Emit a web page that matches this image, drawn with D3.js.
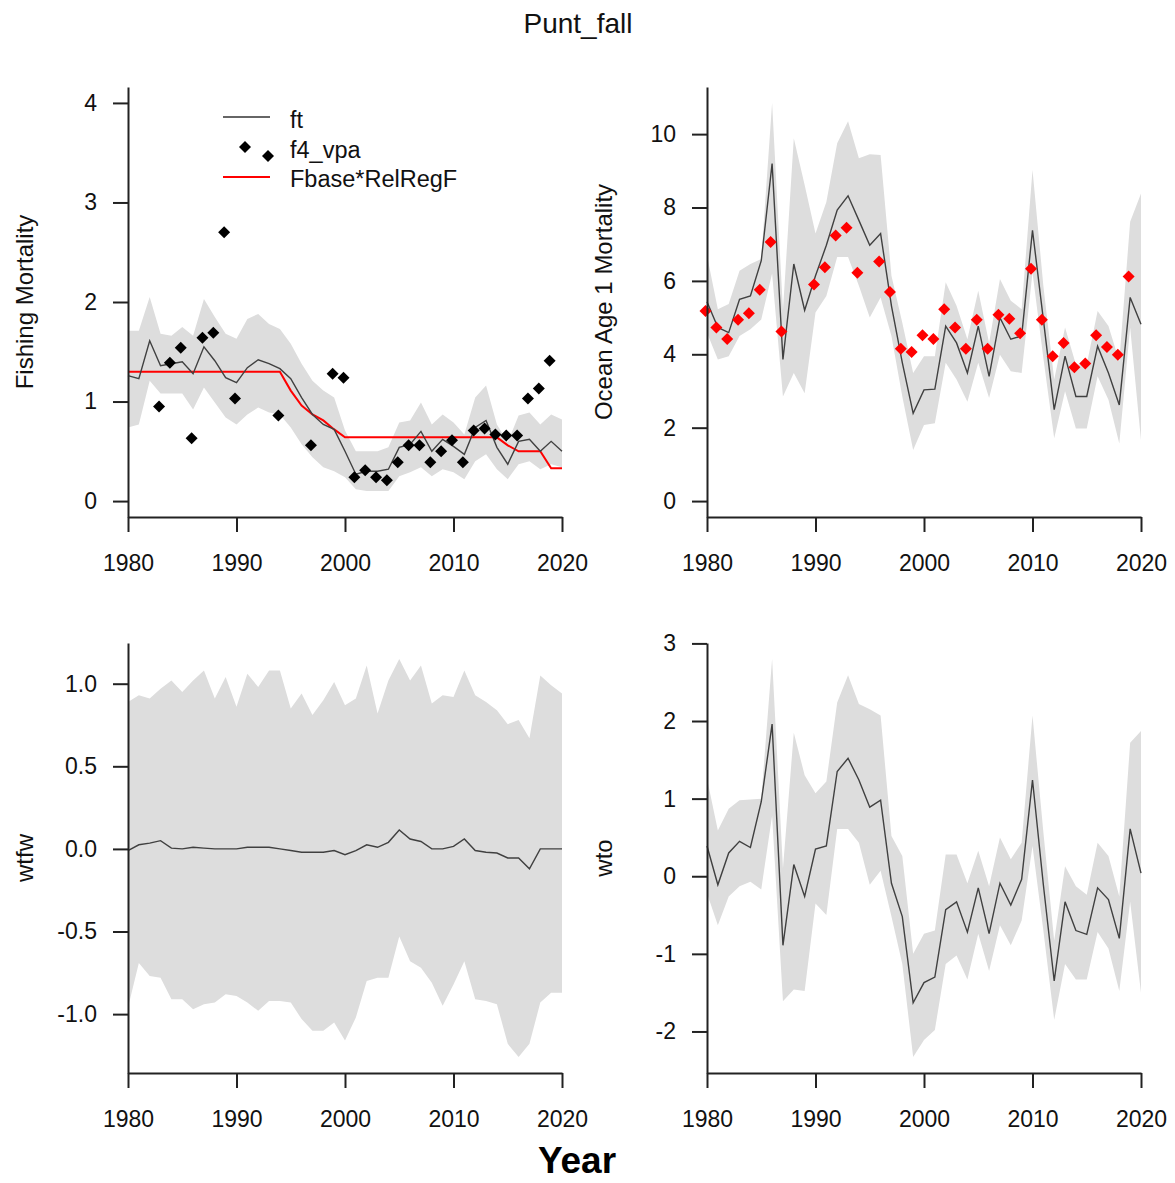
<!DOCTYPE html>
<html>
<head>
<meta charset="utf-8">
<script src="https://cdn.jsdelivr.net/npm/d3@7"></script>
<style>
  body { margin: 0; background: #fff; }
  svg { font-family: "Liberation Sans", Arial, sans-serif; }
</style>
</head>
<body>
<svg id="root" width="1175" height="1183"></svg>
<script>
var d3 = window.d3

const width = 1175
const height = 1183

// years on the x axis
const years = d3.range(1980, 2021)
const yearTicks = [1980, 1990, 2000, 2010, 2020]

// panel 1: fishing mortality
const ftVal = [1.26, 1.23, 1.61, 1.36, 1.38, 1.40, 1.28, 1.55, 1.41, 1.24,
  1.19, 1.34, 1.42, 1.38, 1.33, 1.23, 1.04, 0.87, 0.77, 0.72,
  0.50, 0.27, 0.30, 0.30, 0.32, 0.54, 0.57, 0.70, 0.50, 0.62,
  0.55, 0.47, 0.74, 0.81, 0.54, 0.37, 0.60, 0.62, 0.50, 0.60, 0.50]
const ftHi = [1.71, 1.71, 2.05, 1.68, 1.66, 1.75, 1.66, 2.03, 1.85, 1.68,
  1.63, 1.83, 1.88, 1.78, 1.73, 1.58, 1.38, 1.21, 1.11, 1.04,
  0.71, 0.50, 0.50, 0.50, 0.54, 0.79, 0.81, 0.99, 0.77, 0.87,
  0.79, 0.67, 1.04, 1.16, 0.77, 0.59, 0.86, 0.89, 0.77, 0.87, 0.82]
const ftLo = [0.74, 0.77, 1.21, 1.08, 1.08, 1.08, 0.92, 1.14, 0.99, 0.84,
  0.77, 0.87, 0.94, 0.89, 0.87, 0.74, 0.57, 0.44, 0.34, 0.30,
  0.24, 0.12, 0.10, 0.10, 0.10, 0.25, 0.29, 0.34, 0.25, 0.32,
  0.29, 0.22, 0.40, 0.47, 0.32, 0.22, 0.37, 0.40, 0.32, 0.37, 0.34]
const f4Vpa = [null, null, null, 0.95, 1.39, 1.54, 0.63, 1.64, 1.69, 2.70,
  1.03, null, null, null, 0.86, null, null, 0.56, null, 1.28,
  1.24, 0.24, 0.31, 0.24, 0.21, 0.39, 0.56, 0.56, 0.39, 0.50,
  0.61, 0.39, 0.71, 0.73, 0.67, 0.66, 0.66, 1.03, 1.13, 1.41, null]
const fbaseRelRegF = [1.30, 1.30, 1.30, 1.30, 1.30, 1.30, 1.30, 1.30, 1.30, 1.30,
  1.30, 1.30, 1.30, 1.30, 1.30, 1.11, 0.96, 0.87, 0.81, 0.72,
  0.64, 0.64, 0.64, 0.64, 0.64, 0.64, 0.64, 0.64, 0.64, 0.64,
  0.64, 0.64, 0.64, 0.64, 0.64, 0.56, 0.50, 0.50, 0.50, 0.33, 0.33]

// panel 2: ocean age 1 mortality
const mortVal = [5.43, 4.73, 4.59, 5.50, 5.59, 6.55, 9.20, 3.86, 6.46, 5.20,
  6.14, 6.97, 7.93, 8.32, 7.65, 6.97, 7.29, 5.32, 3.77, 2.39,
  3.03, 3.05, 4.77, 4.31, 3.49, 4.77, 3.40, 5.00, 4.41, 4.50,
  7.38, 4.95, 2.49, 3.95, 2.85, 2.85, 4.22, 3.49, 2.62, 5.55, 4.82]
const mortHi = [6.69, 5.23, 5.37, 6.28, 6.46, 6.60, 10.85, 5.20, 9.89, 8.61,
  7.29, 8.15, 9.75, 10.35, 9.34, 9.45, 9.43, 6.14, 4.86, 3.49,
  3.95, 3.95, 5.96, 5.32, 4.41, 5.73, 4.31, 6.05, 5.46, 5.23,
  9.02, 5.87, 3.31, 4.73, 3.72, 3.72, 5.18, 4.77, 3.81, 7.61, 8.38]
const mortLo = [4.59, 3.86, 3.95, 4.50, 4.68, 4.95, 6.20, 2.85, 3.49, 2.94,
  5.14, 5.59, 6.65, 6.65, 5.87, 5.00, 5.55, 4.50, 2.85, 1.39,
  2.07, 2.12, 3.77, 3.31, 2.71, 3.77, 2.81, 3.99, 3.54, 3.49,
  6.23, 3.90, 1.71, 2.99, 1.98, 1.98, 3.40, 2.76, 1.57, 4.73, 1.66]
const mortObs = [5.18, 4.73, 4.42, 4.94, 5.12, 5.76, 7.06, 4.62, null, null,
  5.90, 6.37, 7.24, 7.45, 6.22, null, 6.53, 5.70, 4.15, 4.06,
  4.52, 4.42, 5.23, 4.73, 4.15, 4.94, 4.15, 5.08, 4.97, 4.57,
  6.33, 4.94, 3.95, 4.31, 3.65, 3.75, 4.52, 4.20, 3.99, 6.12, null]

// panel 3: wtfw
const wtfwVal = [-0.01, 0.025, 0.035, 0.05, 0.005, 0, 0.01, 0.005, 0, 0,
  0, 0.01, 0.01, 0.01, 0, -0.01, -0.02, -0.02, -0.02, -0.01,
  -0.035, -0.01, 0.025, 0.01, 0.04, 0.115, 0.06, 0.045, 0, 0,
  0.015, 0.06, -0.01, -0.02, -0.025, -0.055, -0.055, -0.12, 0, 0, 0]
const wtfwHi = [0.89, 0.93, 0.91, 0.97, 1.02, 0.95, 1.02, 1.08, 0.91, 1.04,
  0.86, 1.06, 0.98, 1.08, 1.08, 0.85, 0.94, 0.81, 0.90, 1.01,
  0.87, 0.91, 1.11, 0.82, 1.02, 1.15, 1.02, 1.11, 0.88, 0.93,
  0.92, 1.08, 0.93, 0.89, 0.84, 0.755, 0.78, 0.67, 1.05, 0.99, 0.94]
const wtfwLo = [-0.96, -0.69, -0.77, -0.78, -0.91, -0.91, -0.97, -0.94, -0.93, -0.88,
  -0.89, -0.93, -0.98, -0.92, -0.92, -0.93, -1.03, -1.10, -1.10, -1.05,
  -1.16, -1.02, -0.80, -0.78, -0.78, -0.53, -0.68, -0.72, -0.81, -0.95,
  -0.82, -0.68, -0.91, -0.92, -0.94, -1.18, -1.26, -1.18, -0.93, -0.87, -0.87]

// panel 4: wto
const wtoVal = [0.39, -0.11, 0.30, 0.45, 0.37, 0.96, 1.96, -0.89, 0.15, -0.26,
  0.35, 0.39, 1.35, 1.52, 1.24, 0.89, 0.98, -0.09, -0.52, -1.63,
  -1.37, -1.30, -0.43, -0.33, -0.72, -0.15, -0.74, -0.09, -0.37, -0.04,
  1.24, -0.11, -1.35, -0.33, -0.70, -0.75, -0.15, -0.30, -0.80, 0.61, 0.04]
const wtoHi = [1.26, 0.59, 0.87, 0.98, 0.99, 1.00, 2.80, 0.10, 1.85, 1.30,
  1.07, 1.22, 2.24, 2.59, 2.22, 2.15, 2.07, 0.52, 0.26, -1.00,
  -0.74, -0.70, 0.28, 0.28, -0.09, 0.33, -0.13, 0.50, 0.22, 0.43,
  2.07, 0.57, -0.83, 0.13, -0.13, -0.24, 0.43, 0.26, -0.26, 1.72, 1.87]
const wtoLo = [-0.22, -0.63, -0.26, -0.13, -0.07, -0.17, 0.78, -1.61, -1.46, -1.48,
  -0.35, -0.50, 0.61, 0.61, 0.43, -0.11, 0.07, -0.52, -1.13, -2.33,
  -2.11, -1.98, -1.13, -1.02, -1.33, -0.74, -1.22, -0.63, -0.89, -0.57,
  0.39, -0.70, -1.85, -1.13, -1.33, -1.33, -0.72, -0.93, -1.48, -0.33, -1.50]

const svg = d3.select('#root')

svg.append('rect').attr('width', width).attr('height', height).attr('fill', '#fff')

// plain hyphen for negatives, like R
const locale = d3.formatLocale({ decimal: '.', thousands: ',', grouping: [3], currency: ['', ''], minus: '-' })

const panels = [
  { left: 128, top: 87, label: 'Fishing Mortality', val: ftVal, lo: ftLo, hi: ftHi,
    ylim: [0, 4], ticks: [0, 1, 2, 3, 4], fmt: locale.format('d') },
  { left: 707, top: 87, label: 'Ocean Age 1 Mortality', val: mortVal, lo: mortLo, hi: mortHi,
    ylim: [0, d3.max(mortHi)], ticks: [0, 2, 4, 6, 8, 10], fmt: locale.format('d') },
  { left: 128, top: 643, label: 'wtfw', val: wtfwVal, lo: wtfwLo, hi: wtfwHi,
    ylim: [d3.min(wtfwLo), d3.max(wtfwHi)], ticks: [-1, -0.5, 0, 0.5, 1], fmt: locale.format('.1f') },
  { left: 707, top: 643, label: 'wto', val: wtoVal, lo: wtoLo, hi: wtoHi,
    ylim: [d3.min(wtoLo), d3.max(wtoHi)], ticks: [-2, -1, 0, 1, 2, 3], fmt: locale.format('d') }
]

const pw = 434
const ph = 430

const diamond = h => `M0,${-h}L${h},0L0,${h}L${-h},0Z`

panels.forEach((p, k) => {
  const g = svg.append('g').attr('transform', `translate(${p.left},${p.top})`)

  const x = d3.scaleLinear().domain([1980, 2020]).range([0, pw])
  // R style 4% padding on the y range
  const pad = (p.ylim[1] - p.ylim[0]) * 0.04
  const y = d3.scaleLinear().domain([p.ylim[0] - pad, p.ylim[1] + pad]).range([ph, 0])

  const rows = years.map((yr, i) => ({ yr, v: p.val[i], lo: p.lo[i], hi: p.hi[i] }))

  // confidence band
  g.append('path')
    .datum(rows)
    .attr('fill', '#dddddd')
    .attr('d', d3.area().x(d => x(d.yr)).y0(d => y(d.lo)).y1(d => y(d.hi)))

  if (k === 0) {
    g.append('path')
      .datum(years.map((yr, i) => ({ yr, v: fbaseRelRegF[i] })))
      .attr('fill', 'none')
      .attr('stroke', '#ff0000')
      .attr('stroke-width', 2)
      .attr('d', d3.line().x(d => x(d.yr)).y(d => y(d.v)))
  }

  // estimate line
  g.append('path')
    .datum(rows)
    .attr('fill', 'none')
    .attr('stroke', '#404040')
    .attr('stroke-width', 1.4)
    .attr('d', d3.line().x(d => x(d.yr)).y(d => y(d.v)))

  // observed points
  if (k === 0 || k === 1) {
    const obs = k === 0 ? f4Vpa : mortObs
    g.selectAll('path.pt')
      .data(years.map((yr, i) => ({ yr, v: obs[i] })).filter(d => d.v !== null))
      .enter()
      .append('path')
      .attr('class', 'pt')
      .attr('d', diamond(6))
      .attr('fill', k === 0 ? '#000' : '#ff0000')
      .attr('transform', d => `translate(${x(d.yr) - 1.5},${y(d.v)})`)
  }

  // axes
  const xAxis = d3.axisBottom(x).tickValues(yearTicks).tickFormat(d3.format('d'))
    .tickSizeInner(15).tickSizeOuter(0).tickPadding(23)
  const yAxis = d3.axisLeft(y).tickValues(p.ticks).tickFormat(p.fmt)
    .tickSizeInner(15).tickSizeOuter(0).tickPadding(16)

  const gx = g.append('g').attr('transform', `translate(0,${ph})`).call(xAxis)
  const gy = g.append('g').call(yAxis)
  ;[gx, gy].forEach(a => {
    a.selectAll('path, line').attr('stroke', '#222').attr('stroke-width', 2)
    a.selectAll('text').attr('font-size', 23).attr('fill', '#111')
      .attr('font-family', '"Liberation Sans", Arial, sans-serif')
  })

  // y axis title
  g.append('text')
    .attr('transform', `translate(${-95},${ph / 2})rotate(-90)`)
    .attr('text-anchor', 'middle')
    .attr('font-size', 24)
    .attr('fill', '#111')
    .text(p.label)
})

// legend in the first panel
const legend = svg.append('g')
legend.append('line').attr('x1', 223).attr('x2', 270).attr('y1', 117).attr('y2', 117)
  .attr('stroke', '#333').attr('stroke-width', 1.4)
legend.append('line').attr('x1', 223).attr('x2', 270).attr('y1', 177).attr('y2', 177)
  .attr('stroke', '#ff0000').attr('stroke-width', 2)
legend.append('path').attr('d', diamond(6)).attr('transform', 'translate(245,147)')
legend.append('path').attr('d', diamond(6)).attr('transform', 'translate(268,156)')
const legendNames = ['ft', 'f4_vpa', 'Fbase*RelRegF']
legend.selectAll('text')
  .data(legendNames)
  .enter()
  .append('text')
  .attr('x', 290)
  .attr('y', (d, i) => 128 + i * 29.5)
  .attr('font-size', 23.5)
  .attr('fill', '#111')
  .text(d => d)

// titles
svg.append('text')
  .attr('x', 578).attr('y', 33)
  .attr('text-anchor', 'middle')
  .attr('font-size', 28)
  .attr('fill', '#111')
  .text('Punt_fall')

svg.append('text')
  .attr('x', 577).attr('y', 1173)
  .attr('text-anchor', 'middle')
  .attr('font-size', 37)
  .attr('font-weight', 'bold')
  .attr('fill', '#000')
  .text('Year')
</script>
</body>
</html>
